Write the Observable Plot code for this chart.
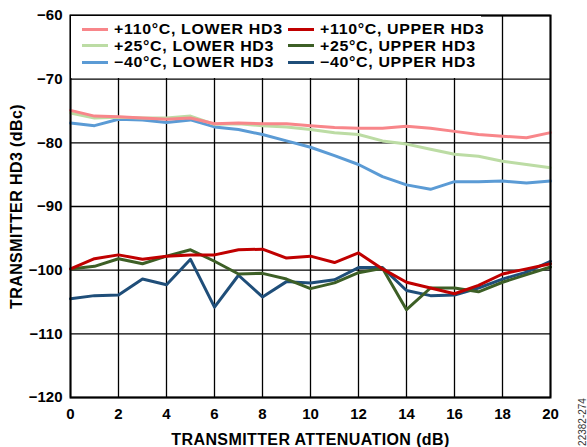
<!DOCTYPE html>
<html>
<head>
<meta charset="utf-8">
<script src="https://cdn.jsdelivr.net/npm/d3@7"></script>
<script src="https://cdn.jsdelivr.net/npm/@observablehq/plot@0.6"></script>
<style>
  html, body { margin: 0; padding: 0; background: #fff; }
  #wrap { position: relative; width: 587px; height: 447px; font-family: "Liberation Sans", Arial, sans-serif; }
  #legend { position: absolute; left: 71px; top: 16px; width: 410px; height: 62px; background: #fff;
    display: grid; grid-template-columns: 206px 204px; grid-auto-rows: 16.6px; padding-top: 5px; padding-left: 11px; box-sizing: border-box; }
  .item { display: flex; align-items: center; font-weight: bold; font-size: 14.5px; line-height: 16px; height: 16.6px; color: #000; white-space: nowrap; }
  .item .t { display: inline-block; letter-spacing: 0.6px; transform: scaleX(1.1); transform-origin: left center; }
  .sw { width: 26px; height: 3px; margin-right: 6px; flex: none; }
  #code { position: absolute; left: 582px; top: 422px; transform: translate(-50%, -50%) rotate(-90deg); font-size: 10px; color: #333; white-space: nowrap; }
  svg g[aria-label$="axis label"] { font-size: 16px; letter-spacing: 0.4px; }
</style>
</head>
<body>
<div id="wrap"></div>
<script>
const atten = [0,1,2,3,4,5,6,7,8,9,10,11,12,13,14,15,16,17,18,19,20];
const xTicks = [0,2,4,6,8,10,12,14,16,18,20];
const yTicks = [-120,-110,-100,-90,-80,-70,-60];

const seriesNames = ["+110°C, LOWER HD3","+110°C, UPPER HD3","+25°C, LOWER HD3","+25°C, UPPER HD3","\u221240°C, LOWER HD3","\u221240°C, UPPER HD3"];
const seriesColors = ["#f8868a","#c00000","#bcdca4","#3d5f26","#5b9bd5","#1f4e79"];

const lower110 = [-74.9,-75.8,-75.9,-76.1,-76.3,-76.1,-77.0,-76.9,-77.0,-77.0,-77.3,-77.6,-77.7,-77.7,-77.4,-77.7,-78.2,-78.7,-78.95,-79.2,-78.4];
const upper110 = [-99.8,-98.2,-97.6,-98.3,-97.8,-97.6,-97.6,-96.8,-96.7,-98.1,-97.8,-98.8,-97.3,-99.8,-101.9,-102.8,-103.7,-102.4,-100.6,-99.8,-99.0];
const lower25 = [-75.3,-76.1,-76.0,-76.1,-76.1,-75.8,-77.1,-77.0,-77.3,-77.5,-77.9,-78.4,-78.7,-79.7,-80.2,-81.0,-81.8,-82.1,-82.9,-83.4,-83.9];
const upper25 = [-99.8,-99.4,-98.2,-99.0,-97.8,-96.8,-98.6,-100.6,-100.5,-101.4,-102.9,-102.0,-100.4,-99.7,-106.2,-102.8,-102.8,-103.4,-101.9,-100.7,-99.5];
const lowerM40 = [-76.9,-77.3,-76.3,-76.4,-76.8,-76.4,-77.5,-77.9,-78.7,-79.7,-80.7,-82.0,-83.4,-85.3,-86.6,-87.3,-86.1,-86.1,-86.0,-86.3,-86.0];
const upperM40 = [-104.5,-104.0,-103.9,-101.4,-102.3,-98.3,-105.8,-100.8,-104.2,-101.8,-102.0,-101.5,-99.6,-99.6,-103.2,-104.0,-103.9,-102.8,-101.4,-100.3,-98.6];

const valuesBySeries = [lower110, upper110, lower25, upper25, lowerM40, upperM40];
const drawOrder = [4, 2, 0, 5, 3, 1];

const data = [];
for (const i of drawOrder) {
  valuesBySeries[i].forEach((v, k) => data.push({series: seriesNames[i], x: atten[k], y: v}));
}

const plot = Plot.plot({
  width: 587,
  height: 447,
  marginLeft: 70,
  marginRight: 37,
  marginTop: 15,
  marginBottom: 50,
  style: {fontFamily: "'Liberation Sans', Arial, sans-serif", fontWeight: "bold", fontSize: "15px", color: "#000", background: "#fff"},
  x: {domain: [0, 20]},
  y: {domain: [-120, -60]},
  color: {domain: seriesNames, range: seriesColors},
  marks: [
    Plot.gridX(xTicks, {stroke: "#000", strokeOpacity: 1, strokeWidth: 1.3}),
    Plot.gridY(yTicks, {stroke: "#000", strokeOpacity: 1, strokeWidth: 1.3}),
    Plot.line(data, {x: "x", y: "y", z: "series", stroke: "series", strokeWidth: 3, curve: "linear"}),
    Plot.frame({stroke: "#000", strokeWidth: 2}),
    Plot.axisX({ticks: xTicks, tickSize: 0, tickPadding: 11, fontSize: 15, label: "TRANSMITTER ATTENUATION (dB)", labelAnchor: "center", labelOffset: 47, labelArrow: false}),
    Plot.axisY({ticks: yTicks, tickSize: 0, tickPadding: 8, fontSize: 15, label: "TRANSMITTER HD3 (dBc)", labelAnchor: "center", labelOffset: 60, labelArrow: false})
  ]
});

const wrap = document.getElementById("wrap");
wrap.appendChild(plot);

const legend = document.createElement("div");
legend.id = "legend";
seriesNames.forEach((n, i) => {
  const it = document.createElement("div");
  it.className = "item";
  const sw = document.createElement("span");
  sw.className = "sw";
  sw.style.background = seriesColors[i];
  it.appendChild(sw);
  const t = document.createElement("span");
  t.className = "t";
  t.textContent = n;
  it.appendChild(t);
  legend.appendChild(it);
});
wrap.appendChild(legend);

const code = document.createElement("div");
code.id = "code";
code.textContent = "22382-274";
wrap.appendChild(code);
</script>
</body>
</html>
